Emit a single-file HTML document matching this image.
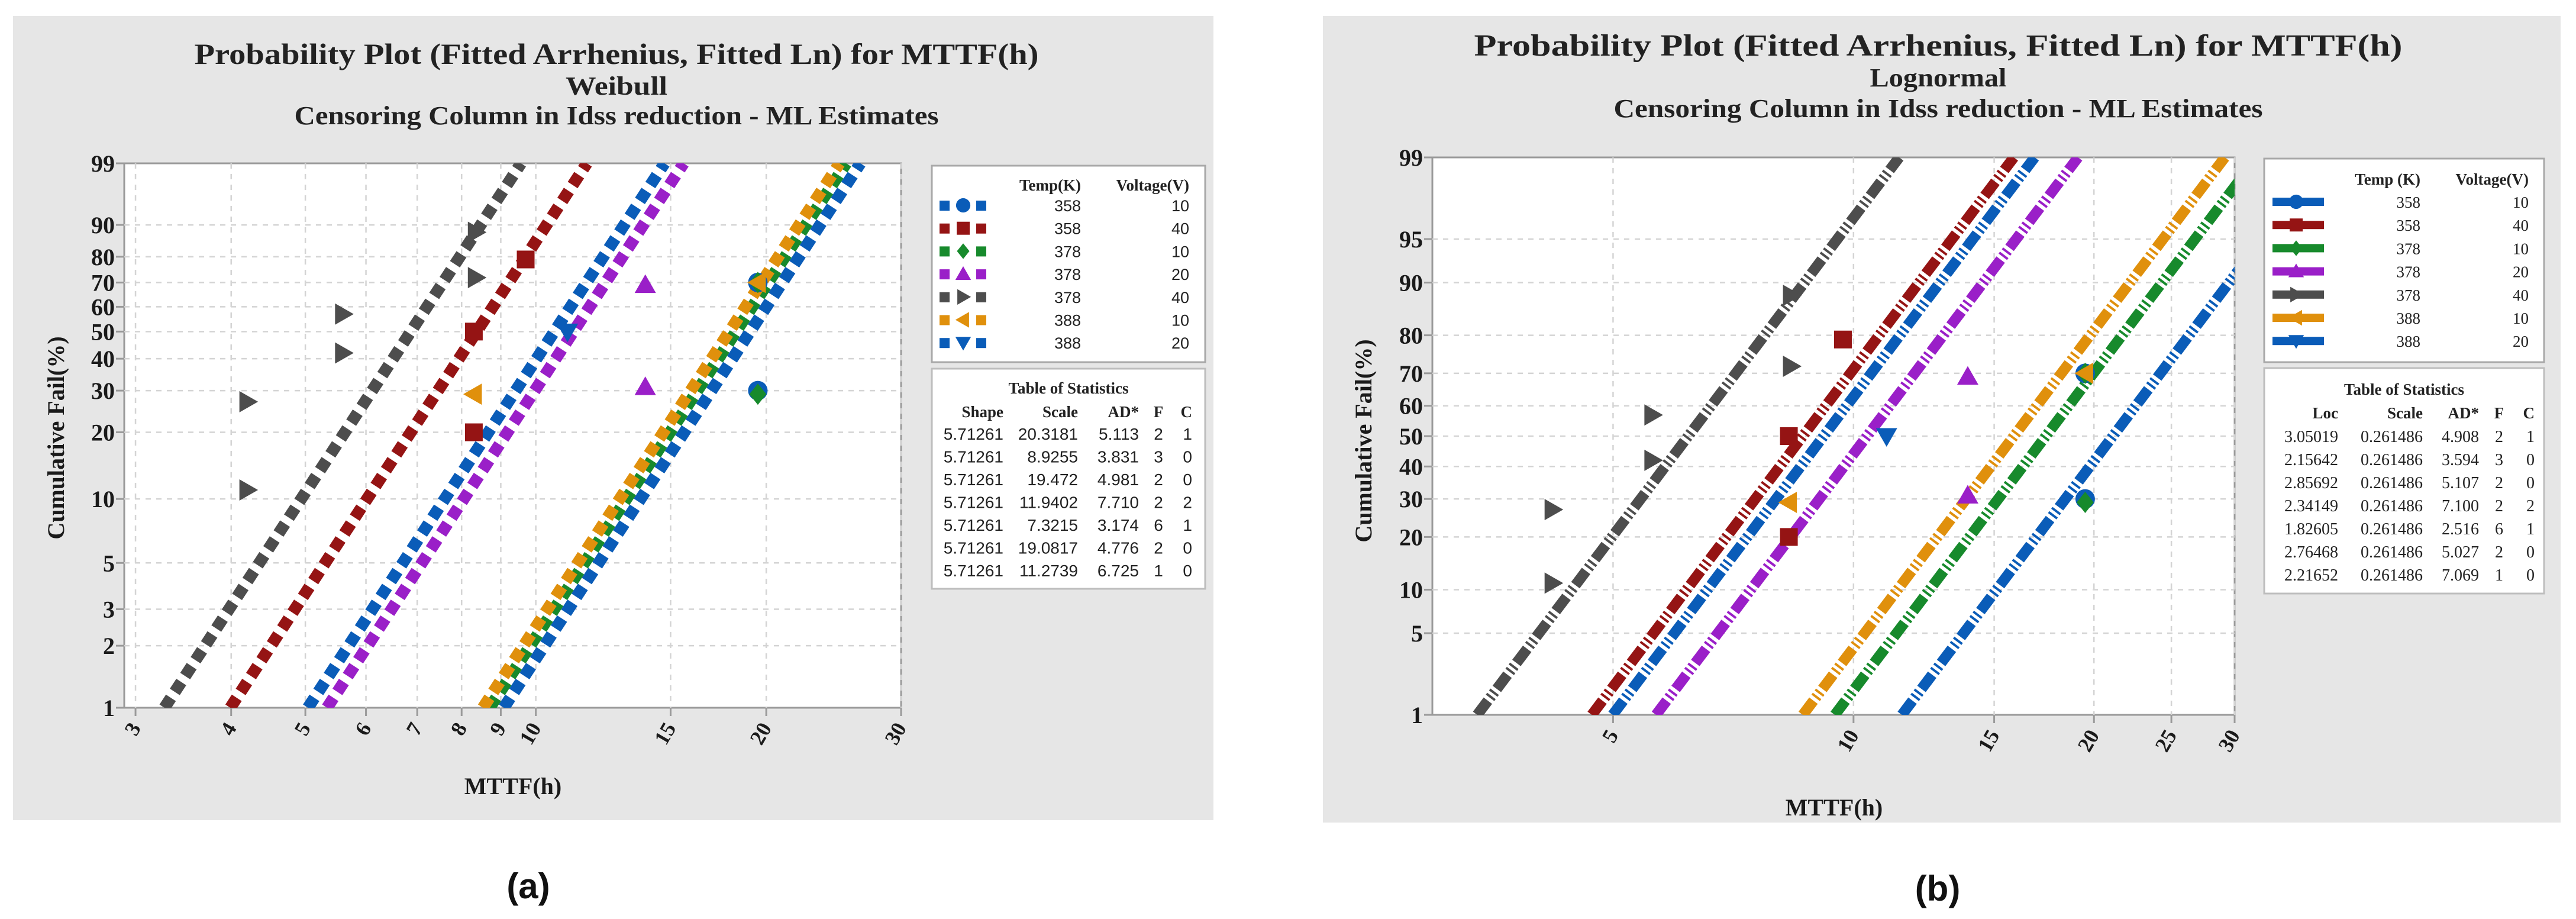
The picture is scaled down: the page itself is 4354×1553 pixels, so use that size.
<!DOCTYPE html>
<html><head><meta charset="utf-8"><title>Probability Plots</title>
<style>
html,body{margin:0;padding:0;background:#fff;}
svg{display:block;}
.serif{font-family:"Liberation Serif",serif;}
.sans{font-family:"Liberation Sans",sans-serif;}
</style></head>
<body>
<svg id="root" width="4354" height="1553" viewBox="0 0 4354 1553" xmlns="http://www.w3.org/2000/svg"></svg>
<script>
// ---- data ----
const groupTemp = [358, 358, 378, 378, 378, 388, 388];
const groupVolt = [10, 40, 10, 20, 40, 10, 20];
const weibShape = [5.71261, 5.71261, 5.71261, 5.71261, 5.71261, 5.71261, 5.71261];
const weibScale = [20.3181, 8.9255, 19.472, 11.9402, 7.3215, 19.0817, 11.2739];
const weibAD = ["5.113", "3.831", "4.981", "7.710", "3.174", "4.776", "6.725"];
const lnLoc = [3.05019, 2.15642, 2.85692, 2.34149, 1.82605, 2.76468, 2.21652];
const lnScale = [0.261486, 0.261486, 0.261486, 0.261486, 0.261486, 0.261486, 0.261486];
const lnAD = ["4.908", "3.594", "5.107", "7.100", "2.516", "5.027", "7.069"];
const failCount = [2, 3, 2, 2, 6, 2, 1];
const censCount = [1, 0, 0, 2, 1, 0, 0];
const pointGroup = [4, 4, 4, 4, 4, 4, 1, 1, 1, 5, 6, 3, 3, 0, 0, 2, 2, 5];
const pointTime  = [4.2, 4.2, 5.6, 5.6, 8.35, 8.35, 8.3, 8.3, 9.7, 8.3, 11.0, 13.9, 13.9, 19.5, 19.5, 19.5, 19.5, 19.5];
const pointPct   = [11, 27, 42, 57, 72, 88, 20, 50, 79, 29, 50, 31, 69, 30, 70, 29, 70, 70];
const yTicksA = [1, 2, 3, 5, 10, 20, 30, 40, 50, 60, 70, 80, 90, 99];
const xTicksA = [3, 4, 5, 6, 7, 8, 9, 10, 15, 20, 30];
const yTicksB = [1, 5, 10, 20, 30, 40, 50, 60, 70, 80, 90, 95, 99];
const xTicksB = [5, 10, 15, 20, 25, 30];

const colors = ["#0a5cb8", "#951414", "#178a2c", "#9a1fc8", "#4d4d4d", "#e0900c", "#0a5cb8"];
const shapes = ["circle", "square", "diamond", "up", "right", "left", "down"];

const NS = "http://www.w3.org/2000/svg";
const root = document.getElementById("root");
function mk(tag, attrs, parent) {
  const e = document.createElementNS(NS, tag);
  for (const k in attrs) e.setAttribute(k, attrs[k]);
  (parent || root).appendChild(e);
  return e;
}
function txt(s, attrs, parent) { const t = mk("text", attrs, parent); t.textContent = s; return t; }

function normInv(p) {
  const a = [-39.69683028665376, 220.9460984245205, -275.9285104469687, 138.3577518672690, -30.66479806614716, 2.506628277459239];
  const b = [-54.47609879822406, 161.5858368580409, -155.6989798598866, 66.80131188771972, -13.28068155288572];
  const c = [-0.007784894002430293, -0.3223964580411365, -2.400758277161838, -2.549732539343734, 4.374664141464968, 2.938163982698783];
  const d = [0.007784695709041462, 0.3224671290700398, 2.445134137142996, 3.754408661907416];
  const pl = 0.02425;
  let q, r;
  if (p < pl) { q = Math.sqrt(-2 * Math.log(p)); return (((((c[0]*q+c[1])*q+c[2])*q+c[3])*q+c[4])*q+c[5]) / ((((d[0]*q+d[1])*q+d[2])*q+d[3])*q+1); }
  if (p > 1 - pl) { q = Math.sqrt(-2 * Math.log(1 - p)); return -(((((c[0]*q+c[1])*q+c[2])*q+c[3])*q+c[4])*q+c[5]) / ((((d[0]*q+d[1])*q+d[2])*q+d[3])*q+1); }
  q = p - 0.5; r = q * q;
  return (((((a[0]*r+a[1])*r+a[2])*r+a[3])*r+a[4])*r+a[5])*q / (((((b[0]*r+b[1])*r+b[2])*r+b[3])*r+b[4])*r+1);
}
const weibT = p => Math.log(-Math.log(1 - p));

function marker(g, shape, cx, cy, s, color, name) {
  let e;
  if (shape === "circle") e = mk("circle", {cx: cx, cy: cy, r: s * 0.55, fill: color}, g);
  else if (shape === "square") e = mk("rect", {x: cx - s/2, y: cy - s/2, width: s, height: s, fill: color}, g);
  else {
    let pts;
    const h = s * 0.6;
    if (shape === "diamond") pts = [[cx, cy-h], [cx+h*0.8, cy], [cx, cy+h], [cx-h*0.8, cy]];
    if (shape === "up") pts = [[cx, cy-h], [cx+h, cy+h*0.75], [cx-h, cy+h*0.75]];
    if (shape === "down") pts = [[cx, cy+h], [cx+h, cy-h*0.75], [cx-h, cy-h*0.75]];
    if (shape === "right") pts = [[cx+h, cy], [cx-h*0.75, cy-h], [cx-h*0.75, cy+h]];
    if (shape === "left") pts = [[cx-h, cy], [cx+h*0.75, cy-h], [cx+h*0.75, cy+h]];
    e = mk("polygon", {points: pts.map(p => p.join(",")).join(" "), fill: color}, g);
  }
  
  
  return e;
}

function panel(cfg) {
  const g = mk("g", {});
  
  
  const bg = mk("rect", {x: cfg.bg[0], y: cfg.bg[1], width: cfg.bg[2] - cfg.bg[0], height: cfg.bg[3] - cfg.bg[1], fill: "#e6e6e6"}, g);
  
  
  // titles
  cfg.titles.forEach((t, i) => {
    const e = txt(t[0], {x: cfg.titleX, y: t[1], "text-anchor": "middle", class: "serif", "font-weight": "bold", "font-size": t[2], fill: "#222", textLength: t[3], lengthAdjust: "spacingAndGlyphs"}, g);
    
    
  });
  const L = cfg.plot[0], T = cfg.plot[1], R = cfg.plot[2], B = cfg.plot[3];
  const pa = mk("rect", {x: L, y: T, width: R - L, height: B - T, fill: "#fff", stroke: "#9a9a9a", "stroke-width": 3}, g);
  
  
  const lx0 = Math.log10(cfg.xMin), lx1 = Math.log10(cfg.xMax);
  const xs = v => L + (Math.log10(v) - lx0) / (lx1 - lx0) * (R - L);
  const f0 = cfg.trans(0.01), f1 = cfg.trans(0.99);
  const ys = p => T + (f1 - cfg.trans(p / 100)) / (f1 - f0) * (B - T);
  // grid
  cfg.yTicks.forEach(v => {
    const y = ys(v);
    if (v !== 1 && v !== 99) {
      const gl = mk("line", {x1: L, x2: R, y1: y, y2: y, stroke: "#d4d4d4", "stroke-width": 2.5, "stroke-dasharray": "9 9"}, g);
      
      
    }
    mk("line", {x1: L - 14, x2: L, y1: y, y2: y, stroke: "#9a9a9a", "stroke-width": 3}, g);
    const t = txt(String(v), {x: L - 16, y: y + 14, "text-anchor": "end", class: "serif", "font-weight": "bold", "font-size": 40, fill: "#1a1a1a"}, g);
    
    
  });
  cfg.xTicks.forEach(v => {
    const x = xs(v);
    const gl = mk("line", {x1: x, x2: x, y1: T, y2: B, stroke: "#d4d4d4", "stroke-width": 2.5, "stroke-dasharray": "9 9"}, g);
    
    
    mk("line", {x1: x, x2: x, y1: B, y2: B + 14, stroke: "#9a9a9a", "stroke-width": 3}, g);
    const t = txt(String(v), {x: 0, y: 0, "text-anchor": "end", class: "serif", "font-weight": "bold", "font-size": 36, fill: "#1a1a1a", transform: "translate(" + (x + 10) + "," + (B + 34) + ") rotate(-60)"}, g);
    
    
  });
  // axis titles
  const yt = txt("Cumulative Fail(%)", {x: 0, y: 0, "text-anchor": "middle", class: "serif", "font-weight": "bold", "font-size": 40, fill: "#1a1a1a", transform: "translate(" + cfg.yTitle[0] + "," + cfg.yTitle[1] + ") rotate(-90)"}, g);
  
  
  const xt = txt("MTTF(h)", {x: cfg.xTitle[0], y: cfg.xTitle[1], "text-anchor": "middle", class: "serif", "font-weight": "bold", "font-size": 40, fill: "#1a1a1a"}, g);
  
  
  // fit lines
  const clipId = "clip-" + cfg.id;
  const cp = mk("clipPath", {id: clipId}, g);
  mk("rect", {x: L, y: T, width: R - L, height: B - T}, cp);
  const lg = mk("g", {"clip-path": "url(#" + clipId + ")"}, g);
  for (let i = 0; i < groupTemp.length; i++) {
    const xa = cfg.quant(i, 0.01), xb = cfg.quant(i, 0.99);
    const ln = mk("line", {x1: xs(xa), y1: ys(1), x2: xs(xb), y2: ys(99), stroke: colors[i], "stroke-width": cfg.lineW, "stroke-dasharray": cfg.dash}, lg);
    
    
  }
  // points
  for (let k = 0; k < pointGroup.length; k++) {
    const gi = pointGroup[k];
    marker(g, shapes[gi], xs(pointTime[k]), ys(pointPct[k]), 30, colors[gi], 'data-point-' + groupTemp[gi] + 'k-' + groupVolt[gi] + 'v');
  }
  // legend
  const lb = cfg.legend;
  const lgBox = mk("rect", {x: lb[0], y: lb[1], width: lb[2] - lb[0], height: lb[3] - lb[1], fill: "#fff", stroke: "#a8a8a8", "stroke-width": 3}, g);
  
  
  const lf = cfg.legFont;
  txt(cfg.tempHdr, {x: cfg.legCols[0], y: cfg.legHdrY, "text-anchor": "end", class: "serif", "font-weight": "bold", "font-size": 27, fill: "#222"}, g);
  txt("Voltage(V)", {x: cfg.legCols[1], y: cfg.legHdrY, "text-anchor": "end", class: "serif", "font-weight": "bold", "font-size": 27, fill: "#222"}, g);
  for (let i = 0; i < groupTemp.length; i++) {
    const cy = cfg.legRow0 + i * cfg.legStep;
    const sx = cfg.swatchX;
    const sw = mk("g", {}, g);
    
    
    if (cfg.id === "a") {
      mk("rect", {x: sx, y: cy - 8, width: 17, height: 17, fill: colors[i]}, sw);
      mk("rect", {x: sx + 62, y: cy - 8, width: 17, height: 17, fill: colors[i]}, sw);
    } else {
      mk("rect", {x: sx, y: cy - 7, width: 87, height: 14, fill: colors[i]}, sw);
    }
    marker(sw, shapes[i], sx + 40, cy, 22, colors[i], 'legend-marker');
    txt(String(groupTemp[i]), {x: cfg.legCols[0], y: cy + 10, "text-anchor": "end", class: lf, "font-size": 27, fill: "#222"}, sw);
    txt(String(groupVolt[i]), {x: cfg.legCols[1], y: cy + 10, "text-anchor": "end", class: lf, "font-size": 27, fill: "#222"}, sw);
  }
  // stats table
  const sb = cfg.stats;
  const sBox = mk("rect", {x: sb[0], y: sb[1], width: sb[2] - sb[0], height: sb[3] - sb[1], fill: "#fff", stroke: "#bdbdbd", "stroke-width": 3}, g);
  
  
  txt("Table of Statistics", {x: (sb[0] + sb[2]) / 2, y: cfg.statTitleY, "text-anchor": "middle", class: "serif", "font-weight": "bold", "font-size": 27, fill: "#222"}, g);
  const cols = cfg.statCols;
  cfg.statHdr.forEach((h, j) => {
    txt(h, {x: cols[j][0], y: cfg.statHdrY, "text-anchor": cols[j][1], class: "serif", "font-weight": "bold", "font-size": 27, fill: "#222"}, g);
  });
  for (let i = 0; i < groupTemp.length; i++) {
    const y = cfg.statRow0 + i * cfg.statStep;
    const vals = cfg.statVals(i);
    const row = mk("g", {}, g);
    
    
    vals.forEach((v, j) => {
      txt(String(v), {x: cols[j][0], y: y, "text-anchor": cols[j][1], class: lf, "font-size": 28, fill: "#222"}, row);
    });
  }
  const lab = txt(cfg.label[0], {x: cfg.label[1], y: cfg.label[2], "text-anchor": "middle", class: "sans", "font-weight": "bold", "font-size": 60, fill: "#111"}, g);
  
  
}

panel({
  id: "a", bg: [22, 27, 2051, 1386],
  titleX: 1042,
  titles: [["Probability Plot (Fitted Arrhenius, Fitted Ln) for MTTF(h)", 108, 50, 1427], ["Weibull", 160, 44, 172], ["Censoring Column in Idss reduction - ML Estimates", 210, 44, 1089]],
  plot: [210, 276, 1523, 1196], xMin: 2.9, xMax: 30, trans: weibT,
  quant: (i, p) => weibScale[i] * Math.pow(-Math.log(1 - p), 1 / weibShape[i]),
  yTicks: yTicksA, xTicks: xTicksA, lineW: 20, dash: "20 12",
  yTitle: [108, 740], xTitle: [867, 1342],
  legend: [1575, 280, 2037, 612], tempHdr: "Temp(K)", legCols: [1827, 2010], legHdrY: 322, legRow0: 347, legStep: 38.7, swatchX: 1588, legFont: "sans",
  stats: [1575, 623, 2037, 995], statTitleY: 665, statHdrY: 705, statRow0: 743, statStep: 38.5,
  statHdr: ["Shape", "Scale", "AD*", "F", "C"],
  statCols: [[1696, "end"], [1822, "end"], [1925, "end"], [1958, "middle"], [2015, "end"]],
  statVals: i => [weibShape[i].toFixed(5), String(weibScale[i]), weibAD[i], failCount[i], censCount[i]],
  label: ["(a)", 893, 1518]
});

panel({
  id: "b", bg: [2236, 27, 4328, 1390],
  titleX: 3276,
  titles: [["Probability Plot (Fitted Arrhenius, Fitted Ln) for MTTF(h)", 94, 52, 1569], ["Lognormal", 146, 44, 231], ["Censoring Column in Idss reduction - ML Estimates", 198, 44, 1097]],
  plot: [2421, 266, 3777, 1208], xMin: 2.97, xMax: 30, trans: normInv,
  quant: (i, p) => Math.exp(lnLoc[i] + lnScale[i] * normInv(p)),
  yTicks: yTicksB, xTicks: xTicksB, lineW: 18, dash: "30 6 4 5 4 6",
  yTitle: [2318, 745], xTitle: [3100, 1378],
  legend: [3827, 268, 4300, 612], tempHdr: "Temp (K)", legCols: [4091, 4274], legHdrY: 312, legRow0: 341, legStep: 39.2, swatchX: 3841, legFont: "serif",
  stats: [3827, 622, 4300, 1003], statTitleY: 667, statHdrY: 707, statRow0: 747, statStep: 39,
  statHdr: ["Loc", "Scale", "AD*", "F", "C"],
  statCols: [[3952, "end"], [4095, "end"], [4190, "end"], [4224, "middle"], [4284, "end"]],
  statVals: i => [String(lnLoc[i]), String(lnScale[i]), lnAD[i], failCount[i], censCount[i]],
  label: ["(b)", 3275, 1522]
});
</script>
</body></html>
